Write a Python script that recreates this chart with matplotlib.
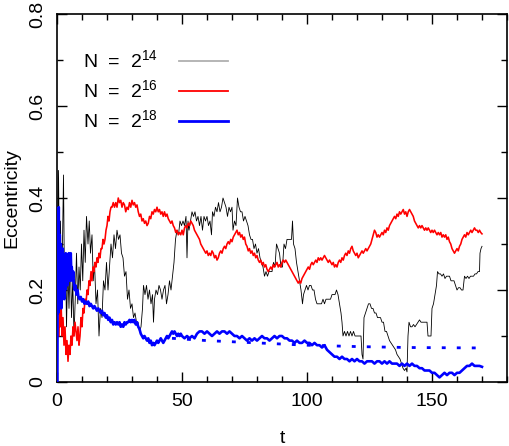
import numpy as np
import matplotlib
matplotlib.use("Agg")
import matplotlib.pyplot as plt
from matplotlib.lines import Line2D
from matplotlib.ticker import MultipleLocator

plt.rcParams['font.family'] = ['Liberation Sans', 'DejaVu Sans']
plt.rcParams['mathtext.fontset'] = 'custom'
plt.rcParams['mathtext.rm'] = 'Liberation Sans'

# ---- data: (t, eccentricity) ----
n14_points = [
    (0.3, 0.30), (0.6, 0.46), (1.0, 0.25), (1.4, 0.35), (1.8, 0.15), (2.2, 0.30), (2.6, 0.45),
    (3.0, 0.20), (3.4, 0.28), (3.8, 0.12), (4.3, 0.25), (4.8, 0.16), (5.3, 0.28), (5.8, 0.14),
    (6.3, 0.22), (6.8, 0.10), (7.3, 0.18), (7.8, 0.28), (8.3, 0.17), (8.8, 0.25), (9.3, 0.20),
    (9.8, 0.30), (10.3, 0.22), (10.8, 0.33), (11.3, 0.26), (11.8, 0.36), (12.4, 0.30), (12.9, 0.35),
    (13.4, 0.28), (14.0, 0.32), (14.5, 0.22), (15.0, 0.26), (15.6, 0.17), (16.2, 0.20), (16.8, 0.10),
    (17.4, 0.16), (18.0, 0.14), (18.6, 0.22), (19.2, 0.20), (19.8, 0.26), (20.4, 0.20), (21.0, 0.25),
    (21.6, 0.30), (22.2, 0.27), (22.8, 0.32), (23.4, 0.29), (24.0, 0.33), (24.6, 0.31), (25.2, 0.32),
    (25.8, 0.28), (26.4, 0.27), (27.0, 0.23), (27.6, 0.24), (28.2, 0.18), (28.8, 0.20), (29.4, 0.16),
    (30.0, 0.17), (30.6, 0.14), (31.2, 0.15), (31.8, 0.13), (32.4, 0.13), (33.0, 0.11), (33.6, 0.12),
    (34.2, 0.16), (34.6, 0.21), (35.2, 0.19), (35.8, 0.21), (36.4, 0.18), (37.0, 0.20), (37.6, 0.17),
    (38.2, 0.19), (38.6, 0.13), (39.0, 0.18), (39.6, 0.20), (40.2, 0.19), (40.8, 0.21), (41.4, 0.20),
    (42.0, 0.18), (42.6, 0.20), (43.2, 0.21), (43.8, 0.17), (44.4, 0.19), (45.0, 0.22), (45.6, 0.20),
    (46.2, 0.23), (46.8, 0.26), (47.4, 0.31), (48.0, 0.33), (48.6, 0.32), (49.2, 0.35), (49.8, 0.34),
    (50.4, 0.35), (51.0, 0.34), (51.6, 0.36), (52.0, 0.27), (52.4, 0.35), (52.8, 0.33), (53.4, 0.35),
    (54.0, 0.37), (54.6, 0.36), (55.2, 0.37), (55.8, 0.35), (56.4, 0.36), (57.0, 0.34), (57.6, 0.36),
    (58.2, 0.33), (58.8, 0.36), (59.4, 0.35), (60.0, 0.36), (60.6, 0.34), (61.2, 0.35), (61.8, 0.32),
    (62.2, 0.37), (62.8, 0.36), (63.4, 0.38), (64.0, 0.37), (64.6, 0.39), (65.2, 0.37), (65.8, 0.38),
    (66.4, 0.40), (67.0, 0.39), (67.6, 0.38), (68.2, 0.36), (68.8, 0.38), (69.4, 0.37), (70.0, 0.38),
    (70.4, 0.33), (71.0, 0.35), (71.6, 0.34), (72.2, 0.40), (72.8, 0.38), (73.4, 0.37), (74.0, 0.37),
    (74.6, 0.35), (75.2, 0.36), (75.8, 0.35), (76.4, 0.34), (77.0, 0.32), (77.6, 0.31), (78.2, 0.31),
    (78.8, 0.29), (79.4, 0.30), (80.0, 0.28), (80.6, 0.29), (81.2, 0.27), (81.8, 0.26), (82.4, 0.25),
    (83.0, 0.23), (83.6, 0.24), (84.2, 0.23), (84.8, 0.24), (85.4, 0.24), (86.0, 0.24), (86.6, 0.26),
    (87.2, 0.25), (87.8, 0.30), (88.4, 0.29), (89.0, 0.28), (89.6, 0.25), (90.2, 0.25), (90.8, 0.30),
    (91.4, 0.29), (92.0, 0.31), (92.6, 0.31), (93.2, 0.31), (93.8, 0.31), (94.2, 0.35), (94.6, 0.30),
    (95.2, 0.29), (95.8, 0.26), (96.4, 0.24), (97.0, 0.22), (97.6, 0.20), (98.2, 0.17), (98.6, 0.19),
    (99.2, 0.20), (99.8, 0.21), (100.4, 0.20), (101.0, 0.21), (101.6, 0.21), (102.2, 0.20),
    (102.8, 0.20), (103.4, 0.18), (104.0, 0.17), (104.6, 0.17), (105.2, 0.17), (105.8, 0.17),
    (106.4, 0.18), (107.0, 0.17), (107.6, 0.18), (108.2, 0.18), (108.8, 0.18), (109.4, 0.18),
    (110.0, 0.19), (110.6, 0.19), (111.2, 0.19), (111.8, 0.20), (112.4, 0.19), (113.0, 0.17),
    (113.6, 0.15), (114.0, 0.13), (114.4, 0.10), (115.0, 0.11), (115.6, 0.10), (116.2, 0.11),
    (116.8, 0.10), (117.4, 0.11), (118.0, 0.10), (118.6, 0.11), (119.2, 0.10), (119.8, 0.10),
    (120.4, 0.10), (121.0, 0.10), (121.6, 0.10), (122.0, 0.06), (122.4, 0.05), (122.8, 0.14),
    (123.4, 0.15), (124.0, 0.16), (124.6, 0.17), (125.2, 0.17), (125.8, 0.16), (126.4, 0.16),
    (127.0, 0.15), (127.6, 0.15), (128.2, 0.14), (128.8, 0.14), (129.4, 0.14), (130.0, 0.13),
    (130.6, 0.13), (131.2, 0.11), (131.8, 0.11), (132.4, 0.10), (133.0, 0.09), (133.6, 0.085),
    (134.2, 0.08), (134.8, 0.075), (135.4, 0.07), (136.0, 0.06), (136.6, 0.055), (137.2, 0.05),
    (137.8, 0.04), (138.4, 0.03), (139.0, 0.025), (139.6, 0.03), (140.0, 0.022), (140.4, 0.10),
    (140.8, 0.13), (141.4, 0.12), (142.0, 0.12), (142.6, 0.125), (143.2, 0.12), (143.8, 0.125),
    (144.4, 0.13), (145.0, 0.135), (145.6, 0.13), (146.2, 0.13), (146.8, 0.13), (147.4, 0.13),
    (148.0, 0.13), (148.4, 0.10), (149.0, 0.10), (149.6, 0.10), (150.0, 0.16), (150.6, 0.17),
    (151.2, 0.19), (151.8, 0.21), (152.2, 0.24), (152.8, 0.235), (153.4, 0.235), (154.0, 0.23),
    (154.6, 0.235), (155.2, 0.225), (155.8, 0.23), (156.4, 0.23), (157.0, 0.23), (157.6, 0.22),
    (158.2, 0.22), (158.8, 0.22), (159.4, 0.21), (160.0, 0.20), (160.6, 0.205), (161.2, 0.205),
    (161.8, 0.20), (162.4, 0.20), (163.0, 0.23), (163.6, 0.225), (164.2, 0.23), (164.8, 0.225),
    (165.4, 0.23), (166.0, 0.23), (166.6, 0.23), (167.2, 0.235), (167.8, 0.235), (168.4, 0.24),
    (169.0, 0.24), (169.2, 0.28), (169.6, 0.29), (170.0, 0.295),
]

n16_points = [
    (0.8, 0.10), (1.0, 0.17), (1.3, 0.12), (1.6, 0.18), (2.0, 0.10), (2.4, 0.14), (2.8, 0.08),
    (3.2, 0.12), (3.6, 0.06), (4.0, 0.09), (4.4, 0.045), (4.8, 0.08), (5.2, 0.06), (5.6, 0.10),
    (6.0, 0.08), (6.4, 0.12), (6.8, 0.10), (7.2, 0.13), (7.6, 0.11), (8.0, 0.09), (8.4, 0.12),
    (8.8, 0.08), (9.2, 0.10), (9.6, 0.14), (10.0, 0.12), (10.4, 0.16), (10.8, 0.15), (11.2, 0.18),
    (11.6, 0.17), (12.0, 0.20), (12.4, 0.19), (12.8, 0.22), (13.2, 0.21), (13.6, 0.24), (14.0, 0.22),
    (14.4, 0.25), (14.8, 0.24), (15.2, 0.26), (15.6, 0.25), (16.0, 0.27), (16.4, 0.26), (16.8, 0.28),
    (17.2, 0.27), (17.6, 0.29), (18.0, 0.29), (18.4, 0.31), (18.8, 0.30), (19.2, 0.31), (19.6, 0.33),
    (20.0, 0.34), (20.4, 0.36), (20.8, 0.35), (21.2, 0.37), (21.6, 0.38), (22.0, 0.38), (22.5, 0.39),
    (23.0, 0.38), (23.5, 0.39), (24.0, 0.38), (24.5, 0.40), (25.0, 0.39), (25.5, 0.395), (26.0, 0.38),
    (26.5, 0.39), (27.0, 0.385), (27.5, 0.37), (28.0, 0.38), (28.5, 0.375), (29.0, 0.39), (29.5, 0.38),
    (30.0, 0.395), (30.5, 0.385), (31.0, 0.39), (31.5, 0.38), (32.0, 0.385), (32.5, 0.37), (33.0, 0.36),
    (33.5, 0.365), (34.0, 0.35), (34.5, 0.355), (35.0, 0.345), (35.5, 0.35), (36.0, 0.34), (36.5, 0.345),
    (37.0, 0.36), (37.5, 0.355), (38.0, 0.37), (38.5, 0.365), (39.0, 0.375), (39.5, 0.37), (40.0, 0.38),
    (40.5, 0.37), (41.0, 0.375), (41.5, 0.365), (42.0, 0.37), (42.5, 0.36), (43.0, 0.37), (43.5, 0.36),
    (44.0, 0.365), (44.5, 0.355), (45.0, 0.35), (45.5, 0.345), (46.0, 0.35), (46.5, 0.34), (47.0, 0.335),
    (47.5, 0.325), (48.0, 0.33), (48.5, 0.32), (49.0, 0.325), (49.5, 0.32), (50.0, 0.33), (50.5, 0.32),
    (51.0, 0.335), (51.5, 0.34), (52.0, 0.335), (52.5, 0.345), (53.0, 0.34), (53.5, 0.35), (54.0, 0.345),
    (54.5, 0.34), (55.0, 0.33), (55.5, 0.325), (56.0, 0.32), (56.5, 0.315), (57.0, 0.31), (57.5, 0.30),
    (58.0, 0.295), (58.5, 0.29), (59.0, 0.285), (59.5, 0.28), (60.0, 0.285), (60.5, 0.275), (61.0, 0.28),
    (61.5, 0.275), (62.0, 0.285), (62.5, 0.28), (63.0, 0.27), (63.5, 0.275), (64.0, 0.265), (64.5, 0.27),
    (65.0, 0.28), (65.5, 0.285), (66.0, 0.28), (66.5, 0.29), (67.0, 0.295), (67.5, 0.29), (68.0, 0.30),
    (68.5, 0.305), (69.0, 0.30), (69.5, 0.31), (70.0, 0.305), (70.5, 0.315), (71.0, 0.32), (71.5, 0.325),
    (72.0, 0.33), (72.5, 0.32), (73.0, 0.325), (73.5, 0.315), (74.0, 0.32), (74.5, 0.31), (75.0, 0.315),
    (75.5, 0.30), (76.0, 0.295), (76.5, 0.285), (77.0, 0.29), (77.5, 0.28), (78.0, 0.285), (78.5, 0.275),
    (79.0, 0.28), (79.5, 0.27), (80.0, 0.275), (80.5, 0.265), (81.0, 0.26), (81.5, 0.265), (82.0, 0.255),
    (82.5, 0.26), (83.0, 0.25), (83.5, 0.255), (84.0, 0.245), (84.5, 0.24), (85.0, 0.245), (85.5, 0.25),
    (86.0, 0.245), (86.5, 0.255), (87.0, 0.25), (87.5, 0.255), (88.0, 0.26), (88.5, 0.25), (89.0, 0.255),
    (89.5, 0.25), (90.0, 0.26), (90.5, 0.265), (91.0, 0.26), (91.5, 0.265), (92.0, 0.26), (92.5, 0.255),
    (93.0, 0.25), (93.5, 0.245), (94.0, 0.24), (94.5, 0.235), (95.0, 0.23), (95.5, 0.225), (96.0, 0.22),
    (96.5, 0.215), (97.0, 0.22), (97.5, 0.215), (98.0, 0.225), (98.5, 0.23), (99.0, 0.235), (99.5, 0.24),
    (100.0, 0.245), (100.5, 0.25), (101.0, 0.245), (101.5, 0.255), (102.0, 0.26), (102.5, 0.255),
    (103.0, 0.26), (103.5, 0.265), (104.0, 0.26), (104.5, 0.27), (105.0, 0.265), (105.5, 0.27),
    (106.0, 0.265), (106.5, 0.27), (107.0, 0.275), (107.5, 0.27), (108.0, 0.265), (108.5, 0.26),
    (109.0, 0.265), (109.5, 0.26), (110.0, 0.255), (110.5, 0.26), (111.0, 0.25), (111.5, 0.255),
    (112.0, 0.25), (112.5, 0.26), (113.0, 0.265), (113.5, 0.26), (114.0, 0.27), (114.5, 0.265),
    (115.0, 0.275), (115.5, 0.28), (116.0, 0.275), (116.5, 0.285), (117.0, 0.28), (117.5, 0.29),
    (118.0, 0.295), (118.5, 0.285), (119.0, 0.28), (119.5, 0.275), (120.0, 0.28), (120.5, 0.27),
    (121.0, 0.275), (121.5, 0.28), (122.0, 0.285), (122.5, 0.28), (123.0, 0.285), (123.5, 0.29),
    (124.0, 0.285), (124.5, 0.29), (125.0, 0.295), (125.5, 0.30), (126.0, 0.31), (126.5, 0.32),
    (127.0, 0.33), (127.5, 0.325), (128.0, 0.315), (128.5, 0.32), (129.0, 0.315), (129.5, 0.32),
    (130.0, 0.325), (130.5, 0.32), (131.0, 0.33), (131.5, 0.325), (132.0, 0.335), (132.5, 0.33),
    (133.0, 0.34), (133.5, 0.345), (134.0, 0.35), (134.5, 0.355), (135.0, 0.36), (135.5, 0.355),
    (136.0, 0.365), (136.5, 0.36), (137.0, 0.37), (137.5, 0.365), (138.0, 0.37), (138.5, 0.375),
    (139.0, 0.365), (139.5, 0.37), (140.0, 0.36), (140.5, 0.37), (141.0, 0.375), (141.5, 0.37),
    (142.0, 0.365), (142.5, 0.36), (143.0, 0.35), (143.5, 0.345), (144.0, 0.34), (144.5, 0.335),
    (145.0, 0.34), (145.5, 0.335), (146.0, 0.34), (146.5, 0.335), (147.0, 0.33), (147.5, 0.335),
    (148.0, 0.33), (148.5, 0.335), (149.0, 0.33), (149.5, 0.325), (150.0, 0.33), (150.5, 0.325),
    (151.0, 0.33), (151.5, 0.325), (152.0, 0.32), (152.5, 0.325), (153.0, 0.32), (153.5, 0.325),
    (154.0, 0.315), (154.5, 0.32), (155.0, 0.315), (155.5, 0.32), (156.0, 0.31), (156.5, 0.315),
    (157.0, 0.305), (157.5, 0.30), (158.0, 0.29), (158.5, 0.285), (159.0, 0.28), (159.5, 0.285),
    (160.0, 0.29), (160.5, 0.285), (161.0, 0.295), (161.5, 0.30), (162.0, 0.31), (162.5, 0.315),
    (163.0, 0.32), (163.5, 0.315), (164.0, 0.325), (164.5, 0.32), (165.0, 0.325), (165.5, 0.33),
    (166.0, 0.325), (166.5, 0.33), (167.0, 0.335), (167.5, 0.33), (168.0, 0.33), (168.5, 0.325),
    (169.0, 0.33), (169.5, 0.325), (170.0, 0.322),
]

n18_points = [
    (0.0, 0.0), (0.15, 0.0), (0.3, 0.30), (0.5, 0.15), (0.7, 0.38), (0.9, 0.18), (1.1, 0.32),
    (1.3, 0.20), (1.5, 0.30), (1.7, 0.16), (1.9, 0.28), (2.1, 0.19), (2.3, 0.29), (2.5, 0.21),
    (2.7, 0.27), (2.9, 0.18), (3.1, 0.26), (3.3, 0.20), (3.5, 0.28), (3.7, 0.22), (3.9, 0.27),
    (4.1, 0.21), (4.3, 0.26), (4.5, 0.22), (4.7, 0.28), (4.9, 0.23), (5.1, 0.27), (5.3, 0.22),
    (5.5, 0.28), (5.7, 0.24), (5.9, 0.25), (6.2, 0.22), (6.5, 0.24), (6.8, 0.21), (7.1, 0.20),
    (7.4, 0.21), (7.8, 0.19), (8.2, 0.20), (8.6, 0.185), (9.0, 0.18), (9.5, 0.185), (10.0, 0.175),
    (10.5, 0.18), (11.0, 0.17), (11.5, 0.175), (12.0, 0.17), (12.5, 0.175), (13.0, 0.165),
    (13.5, 0.17), (14.0, 0.165), (14.5, 0.16), (15.0, 0.165), (15.5, 0.16), (16.0, 0.155),
    (16.5, 0.16), (17.0, 0.155), (17.5, 0.15), (18.0, 0.155), (18.5, 0.145), (19.0, 0.15),
    (19.5, 0.14), (20.0, 0.145), (20.5, 0.135), (21.0, 0.14), (21.5, 0.13), (22.0, 0.135),
    (22.5, 0.125), (23.0, 0.13), (23.5, 0.125), (24.0, 0.13), (24.5, 0.125), (25.0, 0.13),
    (25.5, 0.12), (26.0, 0.125), (26.5, 0.12), (27.0, 0.13), (27.5, 0.125), (28.0, 0.13),
    (28.5, 0.13), (29.0, 0.135), (29.5, 0.13), (30.0, 0.135), (30.5, 0.13), (31.0, 0.135),
    (31.5, 0.125), (32.0, 0.13), (32.5, 0.12), (33.0, 0.115), (33.5, 0.105), (34.0, 0.10),
    (34.5, 0.095), (35.0, 0.10), (35.5, 0.095), (36.0, 0.09), (36.5, 0.095), (37.0, 0.085),
    (37.5, 0.09), (38.0, 0.08), (38.5, 0.085), (39.0, 0.08), (39.5, 0.085), (40.0, 0.09),
    (40.5, 0.085), (41.0, 0.09), (41.5, 0.095), (42.0, 0.09), (42.5, 0.085), (43.0, 0.09),
    (43.5, 0.095), (44.0, 0.10), (44.5, 0.095), (45.0, 0.10), (45.5, 0.105), (46.0, 0.11),
    (46.5, 0.105), (47.0, 0.11), (47.5, 0.105), (48.0, 0.10), (48.5, 0.105), (49.0, 0.10),
    (49.5, 0.105), (50.0, 0.10), (51.0, 0.095), (52.0, 0.10), (53.0, 0.095), (54.0, 0.10),
    (55.0, 0.095), (56.0, 0.105), (57.0, 0.11), (58.0, 0.11), (59.0, 0.105), (60.0, 0.11),
    (61.0, 0.105), (62.0, 0.10), (63.0, 0.105), (64.0, 0.11), (65.0, 0.105), (66.0, 0.11),
    (67.0, 0.11), (68.0, 0.105), (69.0, 0.11), (70.0, 0.105), (71.0, 0.10), (72.0, 0.10),
    (73.0, 0.095), (74.0, 0.10), (75.0, 0.095), (76.0, 0.09), (77.0, 0.095), (78.0, 0.09),
    (79.0, 0.095), (80.0, 0.09), (81.0, 0.095), (82.0, 0.10), (83.0, 0.095), (84.0, 0.095),
    (85.0, 0.09), (86.0, 0.095), (87.0, 0.10), (88.0, 0.095), (89.0, 0.10), (90.0, 0.10),
    (91.0, 0.095), (92.0, 0.095), (93.0, 0.09), (94.0, 0.09), (95.0, 0.085), (96.0, 0.09),
    (97.0, 0.085), (98.0, 0.085), (99.0, 0.09), (100.0, 0.085), (101.0, 0.085), (102.0, 0.08),
    (103.0, 0.085), (104.0, 0.08), (105.0, 0.08), (106.0, 0.075), (107.0, 0.08), (108.0, 0.07),
    (109.0, 0.065), (110.0, 0.06), (111.0, 0.055), (112.0, 0.055), (113.0, 0.05), (114.0, 0.055),
    (115.0, 0.05), (116.0, 0.05), (117.0, 0.045), (118.0, 0.05), (119.0, 0.045), (120.0, 0.05),
    (121.0, 0.045), (122.0, 0.045), (123.0, 0.04), (124.0, 0.045), (125.0, 0.045), (126.0, 0.045),
    (127.0, 0.04), (128.0, 0.045), (129.0, 0.045), (130.0, 0.04), (131.0, 0.045), (132.0, 0.04),
    (133.0, 0.045), (134.0, 0.04), (135.0, 0.04), (136.0, 0.04), (137.0, 0.035), (138.0, 0.04),
    (139.0, 0.035), (140.0, 0.04), (141.0, 0.035), (142.0, 0.04), (143.0, 0.035), (144.0, 0.035),
    (145.0, 0.03), (146.0, 0.03), (147.0, 0.025), (148.0, 0.025), (149.0, 0.025), (150.0, 0.02),
    (151.0, 0.02), (152.0, 0.015), (153.0, 0.01), (154.0, 0.015), (155.0, 0.02), (156.0, 0.015),
    (157.0, 0.02), (158.0, 0.02), (159.0, 0.015), (160.0, 0.02), (161.0, 0.02), (162.0, 0.025),
    (163.0, 0.03), (164.0, 0.035), (165.0, 0.035), (166.0, 0.04), (167.0, 0.035), (168.0, 0.035),
    (169.0, 0.035), (170.0, 0.033),
]

n18_fit_points = [
    (46.0, 0.095), (60.0, 0.09), (80.0, 0.085), (100.0, 0.08), (120.0, 0.077),
    (140.0, 0.075), (170.0, 0.074),
]

legend_labels = [r"N  =  2$^{\mathregular{14}}$", r"N  =  2$^{\mathregular{16}}$",
                 r"N  =  2$^{\mathregular{18}}$"]
x_ticks = [0, 50, 100, 150]
y_ticks = [0, 0.2, 0.4, 0.6, 0.8]
y_ticklabels = ["0", "0.2", "0.4", "0.6", "0.8"]

W, H = 509, 446
fig = plt.figure(figsize=(W / 100, H / 100), dpi=100)
ax = fig.add_axes([57 / W, (H - 382) / H, 450 / W, 368 / H])

t14, e14 = np.array(n14_points).T
t16, e16 = np.array(n16_points).T
t18, e18 = np.array(n18_points).T
tf, ef = np.array(n18_fit_points).T

ax.plot(t14, e14, color='black', lw=0.6, zorder=2)
ax.plot(t16, e16, color='#ff0000', lw=1.15, zorder=3)
ax.plot(tf, ef, color='#0000ff', lw=2.0, linestyle=(0, (1.4, 4.0)), zorder=4)
ax.plot(t18, e18, color='#0000ff', lw=1.9, zorder=5)

ax.set_xlim(0, 180)
ax.set_ylim(0, 0.8)
ax.set_xticks(x_ticks)
ax.xaxis.set_minor_locator(MultipleLocator(10))
ax.set_yticks(y_ticks)
ax.set_yticklabels(y_ticklabels, rotation=90, va='center')
ax.yaxis.set_minor_locator(MultipleLocator(0.1))
ax.tick_params(which='both', direction='in', top=True, right=True, width=1.0, labelsize=14)
ax.tick_params(which='major', length=7)
ax.tick_params(which='minor', length=4)
ax.tick_params(axis='x', pad=8)
ax.tick_params(axis='y', pad=8)
for s in ax.spines.values():
    s.set_linewidth(1.2)

ax.set_xlabel("t", fontsize=14, labelpad=14)
ax.set_ylabel("Eccentricity", fontsize=14, labelpad=6)

handles = [Line2D([], [], color='#b0b0b0', lw=1.3),
           Line2D([], [], color='#ff0000', lw=1.3),
           Line2D([], [], color='#0000ff', lw=2.0)]
ax.legend(handles, legend_labels, loc='upper left', bbox_to_anchor=(0.019, 0.952),
          frameon=False, markerfirst=False, fontsize=14, handlelength=2.5,
          handletextpad=1.1, labelspacing=0.38)

fig.savefig("out.png", dpi=100)
